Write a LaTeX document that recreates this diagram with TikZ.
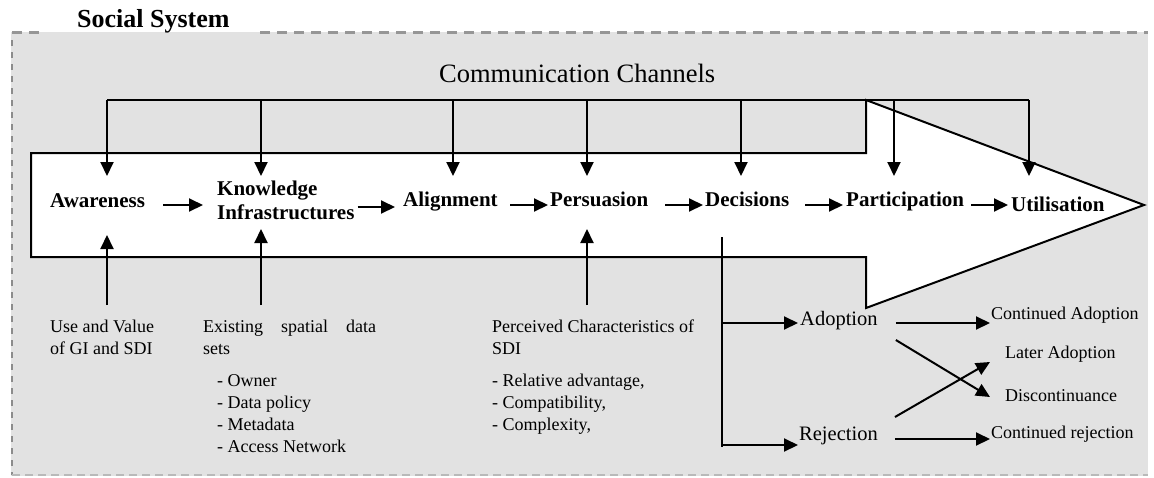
\documentclass[tikz,border=0pt]{standalone}
\usepackage{fontspec}
\setmainfont{Liberation Serif}
\usetikzlibrary{arrows.meta}
\definecolor{bgshade}{RGB}{226,226,226}
\definecolor{topdash}{RGB}{150,150,150}
\definecolor{sidedash}{RGB}{140,140,140}
\definecolor{botdash}{RGB}{185,185,185}
\begin{document}
\begin{tikzpicture}[x=1pt,y=-1pt,
  lbl/.style={inner sep=0pt, anchor=base west, align=left, font=\fontsize{21}{24}\selectfont\bfseries},
  txt/.style={inner sep=0pt, anchor=base west, align=left, font=\fontsize{18}{21.7}\selectfont},
  res/.style={inner sep=0pt, anchor=base west, font=\fontsize{20.5}{23}\selectfont},
  arr/.style={line width=2pt, -{Triangle[length=14pt,width=13pt]}},
  ln/.style={line width=2pt},
]
\useasboundingbox (0,0) rectangle (1154,477);
% social system background
\path[fill=bgshade] (11,32) rectangle (1148,476);
\draw[topdash, line width=3pt, dash pattern=on 10pt off 7pt] (12,32) -- (44,32);
\draw[topdash, line width=3pt, dash pattern=on 10pt off 7pt] (260,32) -- (1148,32);
\draw[sidedash, line width=2pt, dash pattern=on 6pt off 6pt] (12,40) -- (12,475);
\draw[botdash, line width=1.5pt, dash pattern=on 8pt off 5pt] (12,475) -- (1148,475);
\node[inner sep=0pt, anchor=base west, font=\fontsize{26}{28}\selectfont\bfseries] (ss) at (77,27) {Social System};

% big arrow
\draw[ln, fill=white] (31,153) -- (866,153) -- (866,100) -- (1144,205) -- (866,308) -- (866,257) -- (31,257) -- cycle;

% communication channels
\node[inner sep=0pt, anchor=base west, font=\fontsize{26.5}{28}\selectfont] (cc) at (439,82) {Communication Channels};
\coordinate (c1) at (107,100);
\coordinate (c2) at (261,100);
\coordinate (c3) at (453,100);
\coordinate (c4) at (587,100);
\coordinate (c5) at (741,100);
\coordinate (c6) at (894,100);
\coordinate (c7) at (1029,100);
\coordinate (dropend) at (0,176);
\draw[ln] (c1) -- (c7);
\foreach \c in {c1,c2,c3,c4,c5,c6,c7}{
  \draw[arr] (\c) -- (\c |- dropend);
}

% stage labels (multi-line nodes: base = baseline of last line)
\node[lbl] (aw) at (50,207) {Awareness};
\node[lbl] (ki) at (217,219) {Knowledge\\Infrastructures};
\node[lbl] (al) at (403,206) {Alignment};
\node[lbl] (pe) at (550,206) {Persuasion};
\node[lbl] (de) at (705,206) {Decisions};
\node[lbl] (pa) at (846,206) {Participation};
\node[lbl] (ut) at (1011,211) {Utilisation};

\coordinate (ya) at (0,205);
\coordinate (yb) at (0,207);
\draw[arr, shorten <=18pt, shorten >=14pt] (aw.east |- ya) -- (ki.west |- ya);
\draw[arr, shorten <=3pt, shorten >=8pt] (ki.east |- yb) -- (al.west |- yb);
\draw[arr, shorten <=12.5pt, shorten >=2pt] (al.east |- ya) -- (pe.west |- ya);
\draw[arr, shorten <=17pt, shorten >=2pt] (pe.east |- ya) -- (de.west |- ya);
\draw[arr, shorten <=16pt, shorten >=3pt] (de.east |- ya) -- (pa.west |- ya);
\draw[arr, shorten <=7pt, shorten >=3pt] (pa.east |- ya) -- (ut.west |- ya);

% inputs
\node[txt] (uv) at (50,354) {Use and Value\\of GI and SDI};
\node[txt] (es) at (203,354) {\makebox[173pt][s]{Existing spatial data}\\sets};
\node[txt] (ls) at (217,452) {- Owner\\- Data policy\\- Metadata\\- Access Network};
\node[txt] (pc) at (492,354) {Perceived Characteristics of\\SDI};
\node[txt] (pl) at (492,430) {- Relative advantage,\\- Compatibility,\\- Complexity,};

\coordinate (upstart) at (0,305);
\coordinate (upend) at (0,235);
\coordinate (upend2) at (0,229);
\draw[arr] (c1 |- upstart) -- (c1 |- upend);
\draw[arr] (c2 |- upstart) -- (c2 |- upend2);
\draw[arr] (c4 |- upstart) -- (c4 |- upend2);

% decisions outcomes
\node[res] (ad) at (800,325) {Adoption};
\node[res] (re) at (799,440) {Rejection};
\node[txt] (ca) at (991,319) {Continued Adoption};
\node[txt] (la) at (1005,358) {Later Adoption};
\node[txt] (dc) at (1005,401) {Discontinuance};
\node[txt] (cr) at (991,438) {Continued rejection};

\coordinate (dtop) at (722,237);
\coordinate (dbot) at (722,447);
\coordinate (yad) at (0,323);
\coordinate (yre) at (0,445);
\coordinate (ycr) at (0,439);
\draw[ln] (dtop) -- (dbot);
\draw[arr, shorten >=2pt] (dtop |- yad) -- (ad.west |- yad);
\draw[arr, shorten >=1pt] (dtop |- yre) -- (re.west |- yre);
\draw[arr, shorten <=18pt, shorten >=1pt] (ad.east |- yad) -- (ca.west |- yad);
\draw[arr, shorten <=17pt, shorten >=1pt] (re.east |- ycr) -- (cr.west |- ycr);
\draw[arr] ([shift={(18,15)}]ad.base east) -- ([shift={(-15,-4)}]dc.base west);
\draw[arr] ([shift={(17,-23)}]re.base east) -- ([shift={(-15,4)}]la.base west);
\end{tikzpicture}
\end{document}
